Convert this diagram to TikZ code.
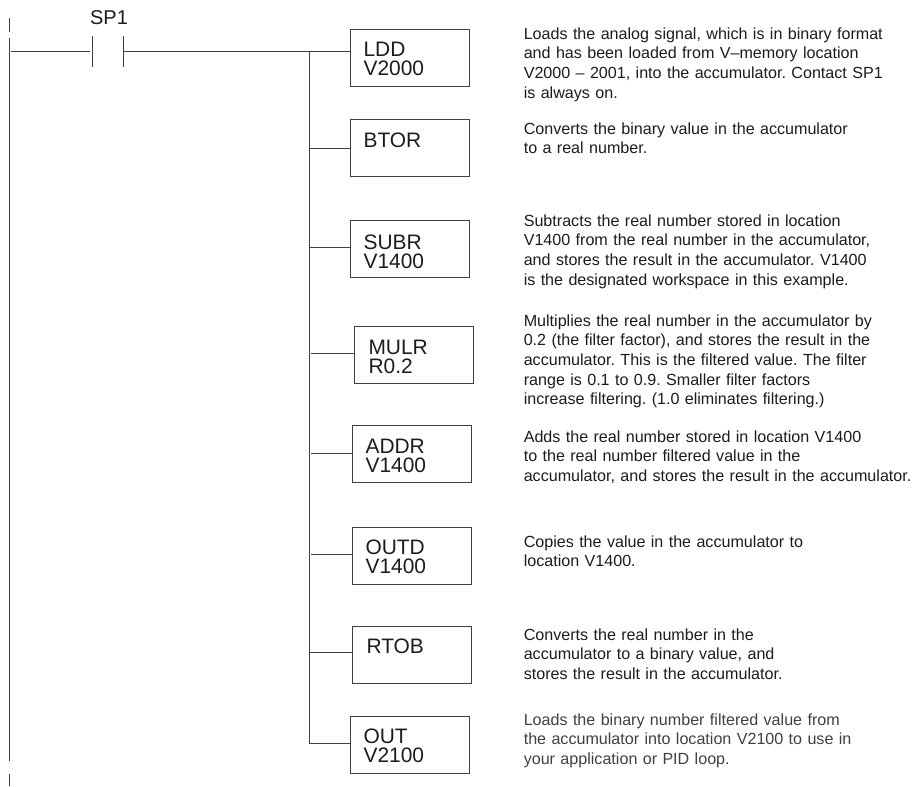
\documentclass[tikz,border=0pt]{standalone}
\usepackage{fontspec}
\setmainfont{Liberation Sans}
\frenchspacing
\definecolor{wire}{HTML}{404040}
\definecolor{ink}{HTML}{1C1C1C}
\definecolor{inksoft}{HTML}{404040}
\tikzset{
  wireline/.style={draw=wire,line width=0.8pt},
  instr/.style n args={2}{draw=wire,line width=0.8pt,anchor=north west,
    minimum width=119*0.75pt,minimum height=57*0.75pt,inner ysep=0pt,
    inner xsep=#1*0.75pt,align=left,text width=(119-2*#1)*0.75pt,
    font=\fontsize{15.7}{14.4}\selectfont,text=ink,
    text height=#2*0.75pt,text depth=(57-#2)*0.75pt},
  desc/.style={anchor=base west,inner sep=0pt,align=left,text width=396*0.75pt,
    font=\fontsize{12.08}{14.8}\selectfont,text=ink},
  contactlabel/.style={anchor=base,inner sep=0pt,font=\fontsize{15}{18}\selectfont,text=ink}
}
\begin{document}
\begin{tikzpicture}[x=0.75pt,y=-0.75pt]
\useasboundingbox (0,0) rectangle (920,786);
% rails
\coordinate (railA) at (9.5,18);
\coordinate (railB) at (9.5,32);
\coordinate (railC) at (9.5,38);
\coordinate (railD) at (9.5,761);
\coordinate (railE) at (9.5,774);
\coordinate (railF) at (9.5,786);
\draw[wireline] (railA) -- (railB);
\draw[wireline] (railC) -- (railD);
\draw[wireline] (railE) -- (railF);
% contact
\coordinate (cLw) at (90,51.5);
\coordinate (cRw) at (123.5,51.5);
\coordinate (cLt) at (92.5,36);
\coordinate (cLb) at (92.5,67);
\coordinate (cRt) at (123.5,36);
\coordinate (cRb) at (123.5,67);
\coordinate (railTap) at (11,51.5);
\coordinate (busTop) at (309.5,51.5);
\coordinate (busBot) at (309.5,743.5);
\node[contactlabel] (sp1) at (109,24) {SP1};
\draw[wireline] (cLt) -- (cLb);
\draw[wireline] (cRt) -- (cRb);
\draw[wireline] (railTap) -- (cLw);
\draw[wireline] (cRw) -- (busTop);
\draw[wireline] (busTop) -- (busBot);
% instruction boxes: {text inset}{first baseline below top}
\node[instr={13}{27}] (ldd)  at (350,29)  {LDD\\V2000};
\node[instr={13}{28}] (btor) at (350,119) {BTOR};
\node[instr={13}{29}] (subr) at (350,220) {SUBR\\V1400};
\node[instr={14}{28}] (mulr) at (354,326) {MULR\\R0.2};
\node[instr={13}{28}] (addr) at (352,425) {ADDR\\V1400};
\node[instr={13}{27}] (outd) at (352,527) {OUTD\\V1400};
\node[instr={14}{27}] (rtob) at (352,626) {RTOB};
\node[instr={13}{27}] (outb) at (350,716) {OUT\\V2100};
% rungs
\coordinate (r1) at (309.5,51.5);
\coordinate (r2) at (309.5,148.5);
\coordinate (r3) at (309.5,247.5);
\coordinate (r4) at (311,353.5);
\coordinate (r5) at (311,453.5);
\coordinate (r6) at (311,554.5);
\coordinate (r7) at (309.5,652.5);
\coordinate (r8) at (309.5,743.5);
\draw[wireline] (r1) -- (r1 -| ldd.west);
\draw[wireline] (r2) -- (r2 -| btor.west);
\draw[wireline] (r3) -- (r3 -| subr.west);
\draw[wireline] (r4) -- (r4 -| mulr.west);
\draw[wireline] (r5) -- (r5 -| addr.west);
\draw[wireline] (r6) -- (r6 -| outd.west);
\draw[wireline] (r7) -- (r7 -| rtob.west);
\draw[wireline] (r8) -- (r8 -| outb.west);
% descriptions
\node[desc] (d1) at (523.5,39) {Loads the analog signal, which is in binary format\\and has been loaded from V–memory location\\V2000 – 2001, into the accumulator. Contact SP1\\is always on.};
\node[desc] (d2) at (523.5,134) {Converts the binary value in the accumulator\\to a real number.};
\node[desc] (d3) at (523.5,226) {Subtracts the real number stored in location\\V1400 from the real number in the accumulator,\\and stores the result in the accumulator. V1400\\is the designated workspace in this example.};
\node[desc] (d4) at (523.5,326) {Multiplies the real number in the accumulator by\\0.2 (the filter factor), and stores the result in the\\accumulator. This is the filtered value. The filter\\range is 0.1 to 0.9. Smaller filter factors\\increase filtering. (1.0 eliminates filtering.)};
\node[desc] (d5) at (523.5,442) {Adds the real number stored in location V1400\\to the real number filtered value in the\\accumulator, and stores the result in the accumulator.};
\node[desc] (d6) at (523.5,547) {Copies the value in the accumulator to\\location V1400.};
\node[desc] (d7) at (523.5,640) {Converts the real number in the\\accumulator to a binary value, and\\stores the result in the accumulator.};
\node[desc,text=inksoft] (d8) at (523.5,725) {Loads the binary number filtered value from\\the accumulator into location V2100 to use in\\your application or PID loop.};
\end{tikzpicture}
\end{document}
